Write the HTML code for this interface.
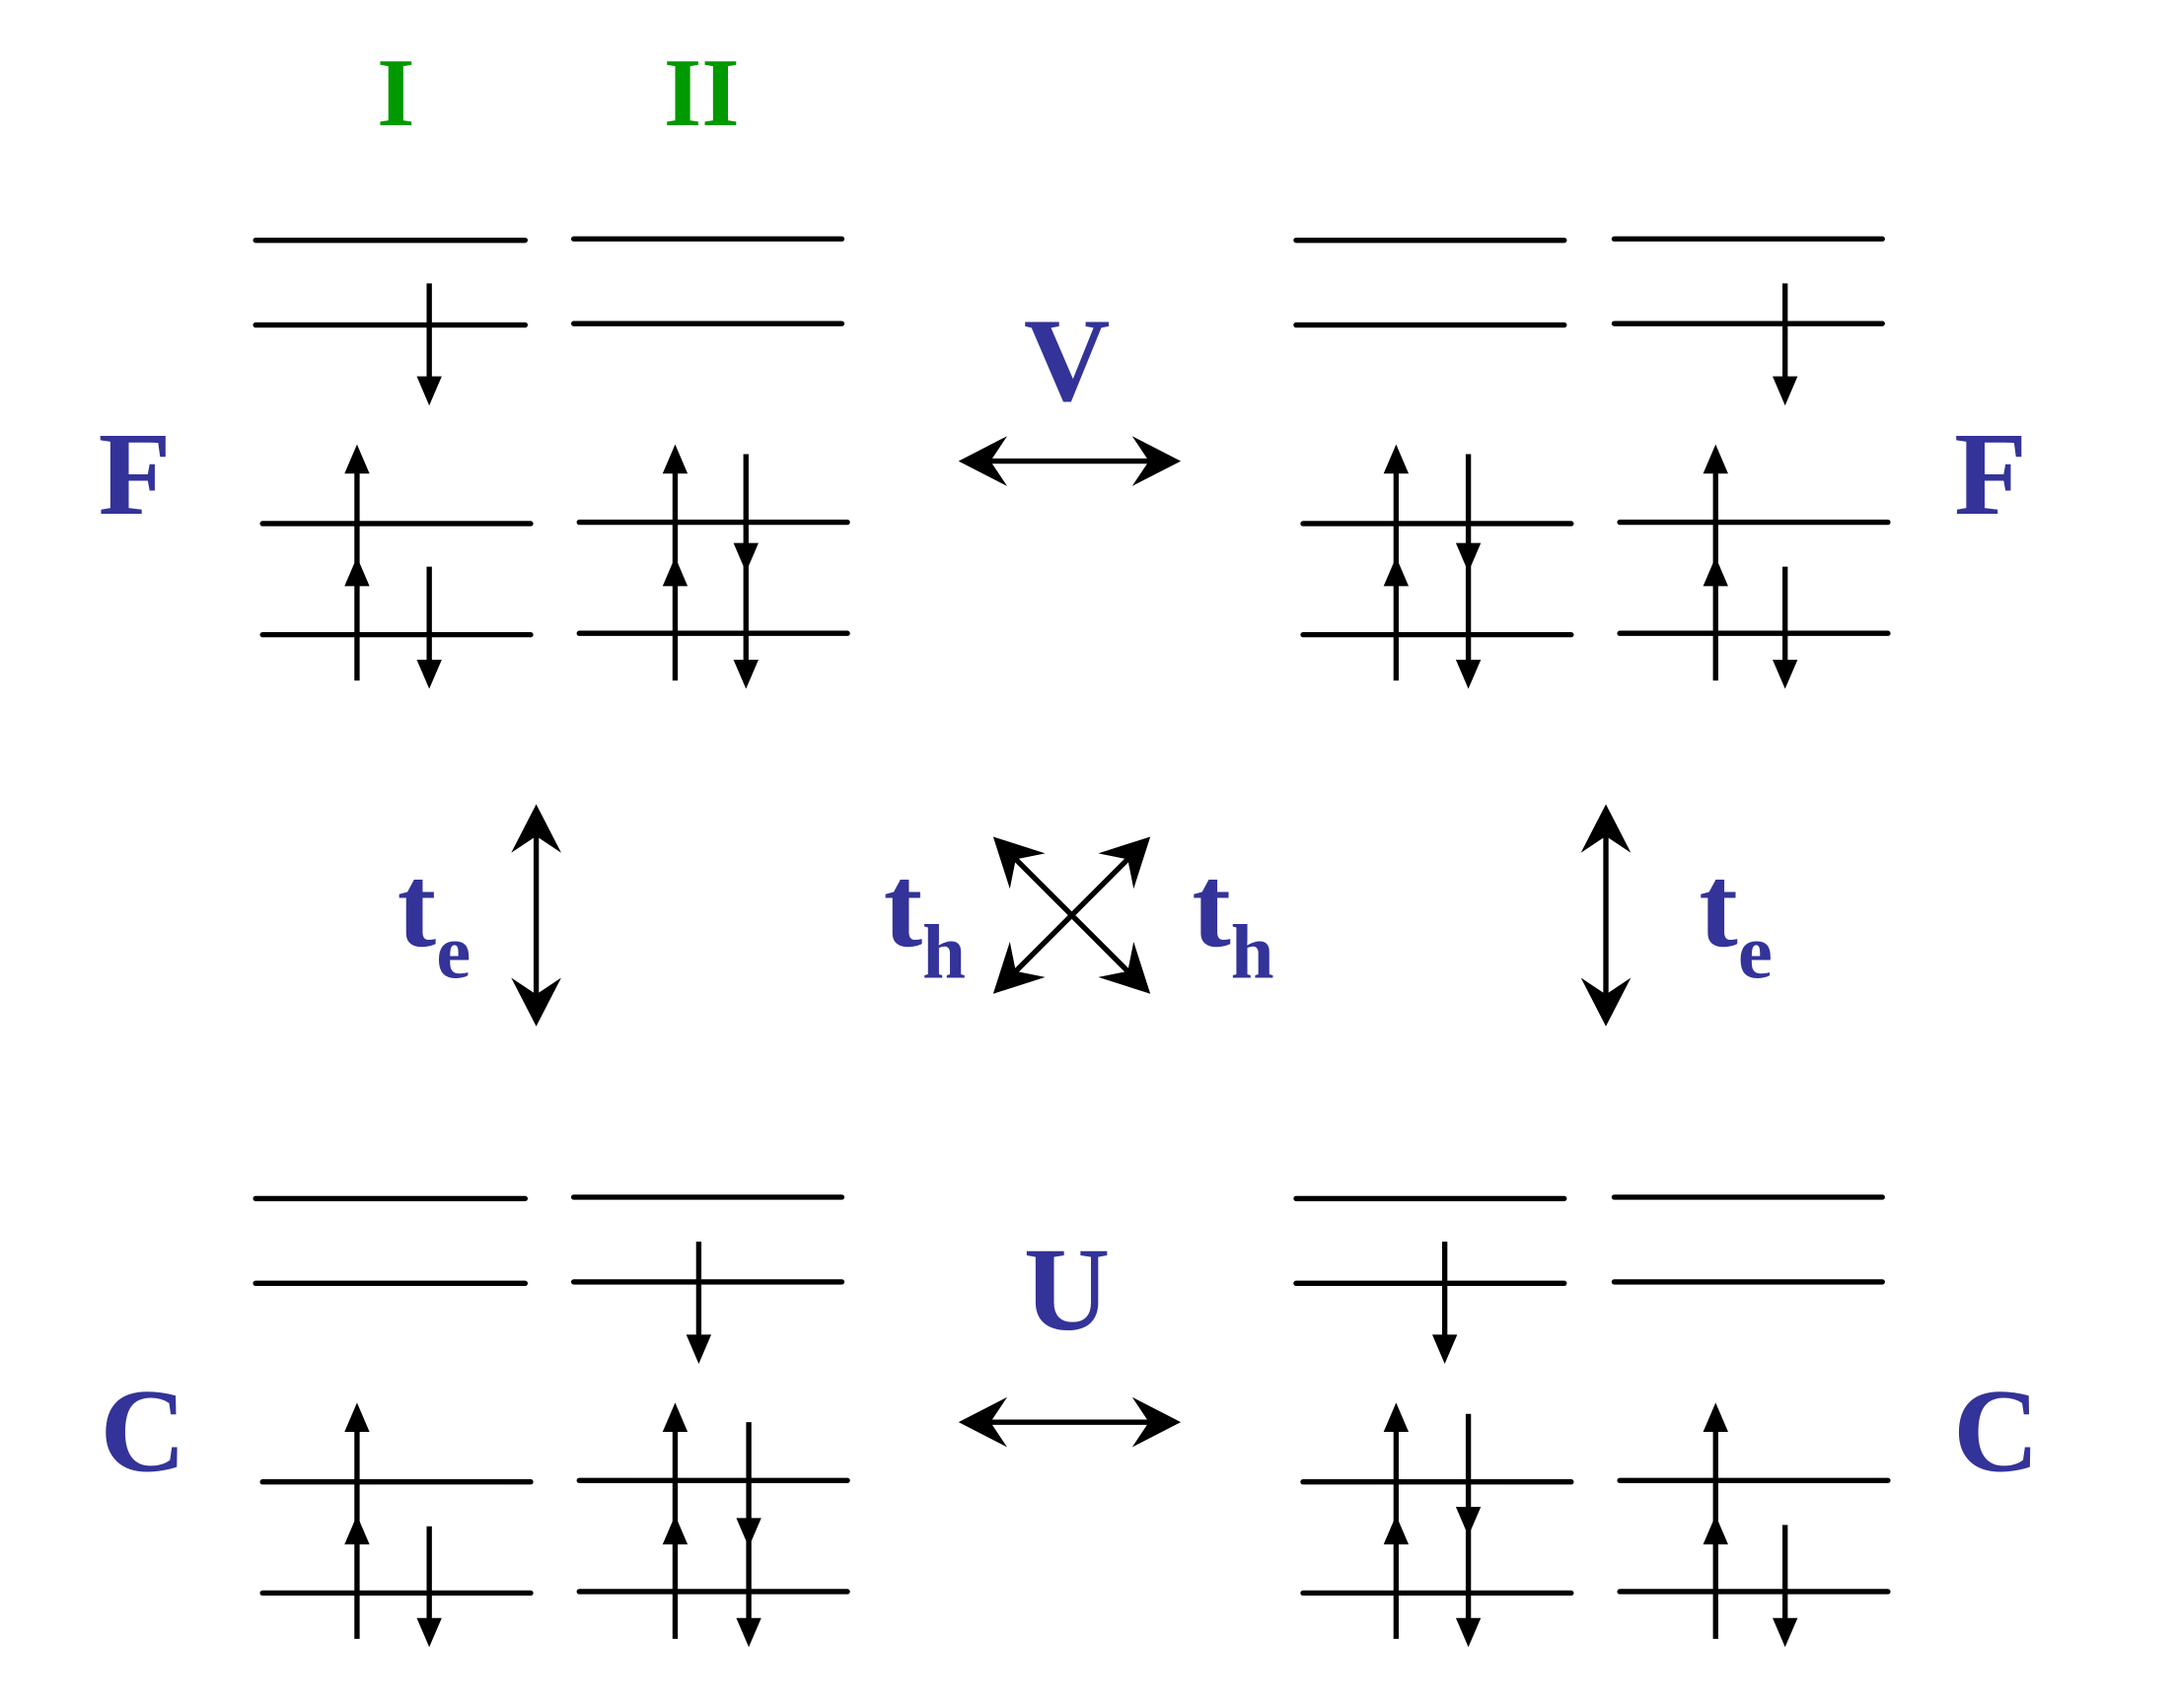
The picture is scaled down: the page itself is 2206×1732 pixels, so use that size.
<!DOCTYPE html>
<html><head><meta charset="utf-8"><style>html,body{margin:0;padding:0;background:#fff}svg{display:block}
.t{font-family:"Liberation Serif","Times New Roman",Times,"Nimbus Roman","Noto Serif CJK SC",serif;font-weight:bold}</style></head>
<body>
<svg width="2206" height="1732" viewBox="0 0 1566.4 1229.8" xmlns="http://www.w3.org/2000/svg">
<defs>
<g id="da">
<line x1="-70" y1="0" x2="70" y2="0" stroke="#000" stroke-width="3.8"/>
<polygon points="-80,0 -45,-18 -57,0 -45,18" fill="#000"/>
<polygon points="80,0 45,-18 57,0 45,18" fill="#000"/>
</g>
</defs>
<g stroke="#000" stroke-width="3.8" stroke-linecap="round">
<line x1="184" y1="173" x2="378" y2="173"/><line x1="184" y1="234" x2="378" y2="234"/>
<line x1="413" y1="172" x2="606" y2="172"/><line x1="413" y1="233" x2="606" y2="233"/>
<line x1="189" y1="377" x2="382" y2="377"/><line x1="189" y1="457" x2="382" y2="457"/>
<line x1="417" y1="376" x2="610" y2="376"/><line x1="417" y1="456" x2="610" y2="456"/>
<line x1="933" y1="173" x2="1126" y2="173"/><line x1="933" y1="234" x2="1126" y2="234"/>
<line x1="1162" y1="172" x2="1355" y2="172"/><line x1="1162" y1="233" x2="1355" y2="233"/>
<line x1="938" y1="377" x2="1131" y2="377"/><line x1="938" y1="457" x2="1131" y2="457"/>
<line x1="1166" y1="376" x2="1359" y2="376"/><line x1="1166" y1="456" x2="1359" y2="456"/>
<line x1="184" y1="863" x2="378" y2="863"/><line x1="184" y1="924" x2="378" y2="924"/>
<line x1="413" y1="862" x2="606" y2="862"/><line x1="413" y1="923" x2="606" y2="923"/>
<line x1="189" y1="1067" x2="382" y2="1067"/><line x1="189" y1="1147" x2="382" y2="1147"/>
<line x1="417" y1="1066" x2="610" y2="1066"/><line x1="417" y1="1146" x2="610" y2="1146"/>
<line x1="933" y1="863" x2="1126" y2="863"/><line x1="933" y1="924" x2="1126" y2="924"/>
<line x1="1162" y1="862" x2="1355" y2="862"/><line x1="1162" y1="923" x2="1355" y2="923"/>
<line x1="938" y1="1067" x2="1131" y2="1067"/><line x1="938" y1="1147" x2="1131" y2="1147"/>
<line x1="1166" y1="1066" x2="1359" y2="1066"/><line x1="1166" y1="1146" x2="1359" y2="1146"/>
</g>
<g stroke="#000" stroke-width="3.8">
<line x1="257" y1="490" x2="257" y2="335"/><line x1="309" y1="408" x2="309" y2="480"/><line x1="309" y1="204" x2="309" y2="276"/>
<line x1="486" y1="490" x2="486" y2="335"/><line x1="537" y1="327" x2="537" y2="480"/>
<line x1="1005" y1="490" x2="1005" y2="335"/><line x1="1057" y1="327" x2="1057" y2="480"/>
<line x1="1235" y1="490" x2="1235" y2="335"/><line x1="1285" y1="408" x2="1285" y2="480"/><line x1="1285" y1="204" x2="1285" y2="276"/>
<line x1="257" y1="1180" x2="257" y2="1025"/><line x1="309" y1="1099" x2="309" y2="1170"/>
<line x1="486" y1="1180" x2="486" y2="1025"/><line x1="539" y1="1024" x2="539" y2="1170"/><line x1="503" y1="894" x2="503" y2="966"/>
<line x1="1005" y1="1180" x2="1005" y2="1025"/><line x1="1057" y1="1018" x2="1057" y2="1170"/>
<line x1="1235" y1="1180" x2="1235" y2="1025"/><line x1="1285" y1="1098" x2="1285" y2="1170"/><line x1="1040" y1="894" x2="1040" y2="966"/>
</g>
<g fill="#000">
<polygon points="257,320 248,341 266,341"/><polygon points="257,401 248,422 266,422"/>
<polygon points="486,320 477,341 495,341"/><polygon points="486,401 477,422 495,422"/>
<polygon points="1005,320 996,341 1014,341"/><polygon points="1005,401 996,422 1014,422"/>
<polygon points="1235,320 1226,341 1244,341"/><polygon points="1235,401 1226,422 1244,422"/>
<polygon points="257,1010 248,1031 266,1031"/><polygon points="257,1091 248,1112 266,1112"/>
<polygon points="486,1010 477,1031 495,1031"/><polygon points="486,1091 477,1112 495,1112"/>
<polygon points="1005,1010 996,1031 1014,1031"/><polygon points="1005,1091 996,1112 1014,1112"/>
<polygon points="1235,1010 1226,1031 1244,1031"/><polygon points="1235,1091 1226,1112 1244,1112"/>
<polygon points="309,496 300,475 318,475"/><polygon points="309,292 300,271 318,271"/>
<polygon points="537,496 528,475 546,475"/><polygon points="537,412 528,391 546,391"/>
<polygon points="1057,496 1048,475 1066,475"/><polygon points="1057,412 1048,391 1066,391"/>
<polygon points="1285,496 1276,475 1294,475"/><polygon points="1285,292 1276,271 1294,271"/>
<polygon points="309,1186 300,1165 318,1165"/>
<polygon points="539,1186 530,1165 548,1165"/><polygon points="539,1114 530,1093 548,1093"/>
<polygon points="503,982 494,961 512,961"/>
<polygon points="1057,1186 1048,1165 1066,1165"/><polygon points="1057,1106 1048,1085 1066,1085"/>
<polygon points="1285,1186 1276,1165 1294,1165"/>
<polygon points="1040,982 1031,961 1049,961"/>
</g>
<use href="#da" transform="translate(770,332)"/>
<use href="#da" transform="translate(770,1024)"/>
<use href="#da" transform="translate(386,659) rotate(90)"/>
<use href="#da" transform="translate(1156,659) rotate(90)"/>
<use href="#da" transform="translate(771.5,659) rotate(45)"/>
<use href="#da" transform="translate(771.5,659) rotate(-45)"/>
<g class="t">
<text x="285" y="90" fill="#009900" font-size="70" text-anchor="middle">I</text>
<text x="505" y="90" fill="#009900" font-size="70" text-anchor="middle">II</text>
<g fill="#333399">
<text x="97" y="370" font-size="86" text-anchor="middle">F</text>
<text x="1433" y="370" font-size="86" text-anchor="middle">F</text>
<text x="103" y="1059" font-size="86" text-anchor="middle">C</text>
<text x="1437" y="1059" font-size="86" text-anchor="middle">C</text>
<text x="768" y="288" font-size="86" text-anchor="middle">V</text>
<text x="768" y="957" font-size="86" text-anchor="middle">U</text>
<text x="286" y="681" font-size="84">t</text><text x="314" y="704" font-size="56">e</text>
<text x="636" y="681" font-size="84">t</text><text x="664" y="704" font-size="56">h</text>
<text x="858" y="681" font-size="84">t</text><text x="886" y="704" font-size="56">h</text>
<text x="1223" y="681" font-size="84">t</text><text x="1251" y="704" font-size="56">e</text>
</g>
</g>
</svg>
</body></html>
